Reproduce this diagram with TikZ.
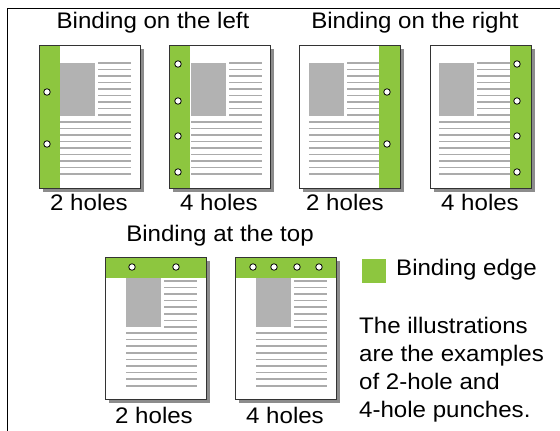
\documentclass[tikz,border=0pt]{standalone}
\usepackage{fontspec}
\setmainfont[FakeStretch=1.07]{Liberation Sans}
\definecolor{bindgreen}{RGB}{141,198,63}

\begin{document}
\begin{tikzpicture}[x=1pt, y=-1pt,
	shade/.style={fill=black!45},
	sheet/.style={draw=black!80, line width=0.9pt},
	edge/.style={fill=bindgreen},
	photo/.style={fill=black!30},
	rule/.style={draw=black!33, line width=1.5pt},
	hole/.style={circle, inner sep=0pt, minimum size=6.5pt, fill=white, draw=black, line width=0.8pt},
	txt/.style={font=\fontsize{22.5}{28}\selectfont, inner sep=0pt}]
			\useasboundingbox (0,0) rectangle (560,431);
			\draw[line width=1pt] (7,431) -- (7,8) -- (560,8);
			% pages bound on the side
			\foreach \a/\g/\p/\r/\e in {39/39/60/98/131, 169/169/191/229/262, 299/379/309/347/379, 430/510/439/477/510}{
				\fill[shade] ({\a+4},49) rectangle ({\a+105},192);
				\fill[white] (\a,45) rectangle ({\a+101},188);
				\fill[edge] (\g,45) rectangle ({\g+21},188);
				\fill[photo] (\p,63) rectangle ({\p+35},116);
				\foreach \k in {0,...,8} \draw[rule] (\r,{63+6.53*\k}) -- (\e,{63+6.53*\k});
				\foreach \k in {9,...,17} \draw[rule] (\p,{63+6.53*\k}) -- (\e,{63+6.53*\k});
				\draw[sheet] (\a,45) rectangle ({\a+101},188);
			}
			% pages bound at the top
			\foreach \a/\p/\r/\e in {105/126/164/197, 235/256/294/327}{
				\fill[shade] ({\a+4},261) rectangle ({\a+105},403);
				\fill[white] (\a,257) rectangle ({\a+101},399);
				\fill[edge] (\a,257) rectangle ({\a+101},278);
				\fill[photo] (\p,278) rectangle ({\p+35},327);
				\foreach \k in {0,...,7} \draw[rule] (\r,{281+6.55*\k}) -- (\e,{281+6.55*\k});
				\foreach \k in {0,...,8} \draw[rule] (\p,{333+6.6*\k}) -- (\e,{333+6.6*\k});
				\draw[sheet] (\a,257) rectangle ({\a+101},399);
			}
			\node[hole](la1) at (47,92){};
			\node[hole](la2) at (47,144){};
			\node[hole](lb1) at (178,64){};
			\node[hole](lb2) at (178,101){};
			\node[hole](lb3) at (178,136){};
			\node[hole](lb4) at (178,172){};
			\node[hole](ra1) at (387,92){};
			\node[hole](ra2) at (387,144){};
			\node[hole](rb1) at (517,64){};
			\node[hole](rb2) at (517,101){};
			\node[hole](rb3) at (517,136){};
			\node[hole](rb4) at (517,172){};
			\node[hole](ta1) at (132,267){};
			\node[hole](ta2) at (176,267){};
			\node[hole](tb1) at (253,267){};
			\node[hole](tb2) at (274,267){};
			\node[hole](tb3) at (297,267){};
			\node[hole](tb4) at (319,267){};
			% labels
			\node[txt, anchor=base](tleft) at (153,28){Binding on the left};
			\node[txt, anchor=base](tright) at (415,28){Binding on the right};
			\node[txt, anchor=base](ttop) at (220,241){Binding at the top};
			\node[txt, anchor=base](cla) at (89,210){2 holes};
			\node[txt, anchor=base](clb) at (219,210){4 holes};
			\node[txt, anchor=base](cra) at (345,210){2 holes};
			\node[txt, anchor=base](crb) at (480,210){4 holes};
			\node[txt, anchor=base](cta) at (154,423){2 holes};
			\node[txt, anchor=base](ctb) at (285,423){4 holes};
			\fill[edge] (362,259) rectangle (386,283);
			\node[txt, anchor=base west](key) at (396,275){Binding edge};
			\node[txt, anchor=base west, align=left](note) at (359,417){The illustrations\\are the examples\\of 2-hole and\\4-hole punches.};
			\end{tikzpicture}
\end{document}
